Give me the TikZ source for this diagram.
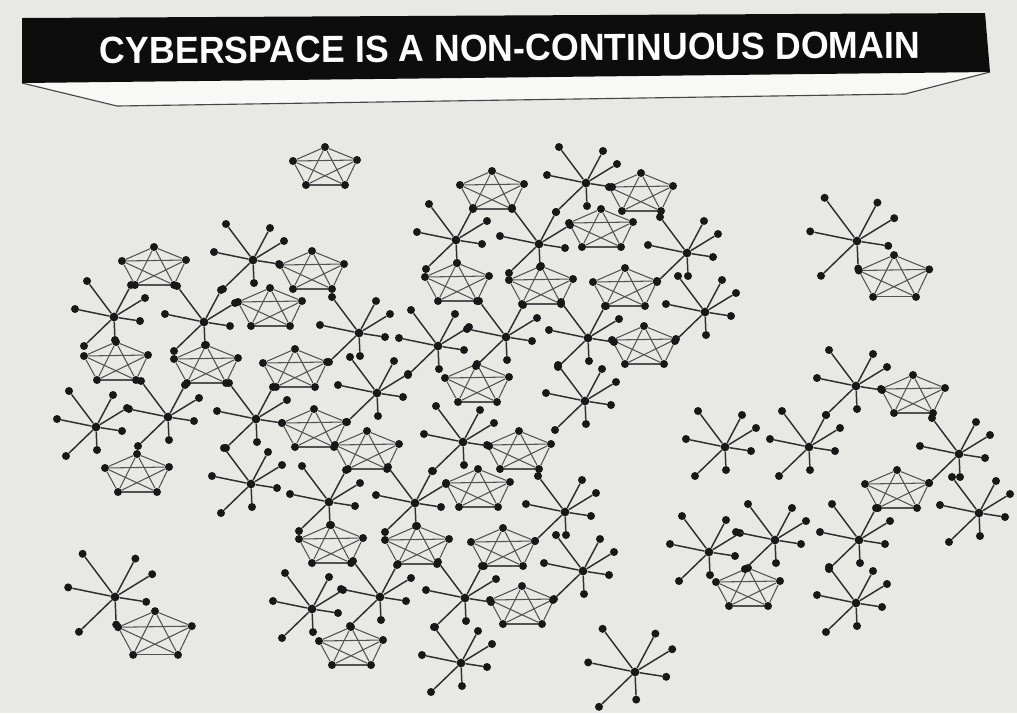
\documentclass[tikz,border=0pt]{standalone}
\usepackage{fontspec}
\setmainfont{Liberation Sans}
\usepackage{graphicx}
\definecolor{paper}{RGB}{232,232,229}
\definecolor{ink}{RGB}{24,24,24}

\begin{document}
\begin{tikzpicture}[
  x=0.025cm, y=-0.025cm,
  dot/.style={circle, fill=ink, inner sep=0pt, minimum size=0.2cm},
  hubdot/.style={dot, minimum size=0.22cm},
  spoke/.style={draw=ink!90, line width=1.05pt},
  mesh/.style={draw=ink!75, line width=0.75pt}
]

% paper
\fill[paper] (0,0) rectangle (1017,713);
\useasboundingbox (0,0) rectangle (1017,713);

% the banner
\draw[fill=white!70!paper, draw=ink!80, line width=0.8pt] (22,83) -- (117,106) -- (905,94) -- (990,72);
\fill[black!95] (22,18) -- (985,13) -- (990,72) -- (22,83) -- cycle;
\node[text=white, rotate=0.4, inner sep=0pt] (title) at (510,48)
  {\resizebox{20.5cm}{0.66cm}{\bfseries CYBERSPACE IS A NON-CONTINUOUS DOMAIN}};

% pentagons (full mesh of five)
\foreach \x/\y/\s [count=\i] in {325/166/1, 492/190/1, 641/192/1, 154/266/1, 312/270/1,
    601/228/1, 270/307/1, 457/282/1, 541/285/1, 625/287/1, 894/276/1.1, 116/361/1,
    206/364/1, 295/368/1, 644/345/1, 477/383/1, 913/394/1, 314/428/1, 367/450/1,
    137/473/1, 519/450/1, 478/488/1, 897/489/1, 331/544/1, 417/545/1, 503/547/1,
    522/605/1, 748/587/1, 155/633/1.15, 351/646/1} {
  \begin{scope}[shift={(\x,\y)}, scale=\s]
    \foreach \dx/\dy [count=\j] in {0/-19, -32/-5, 32/-6, -19/19, 20/19}
      \node[dot] (p\i-\j) at (\dx,\dy) {};
  \end{scope}
  \foreach \a/\b in {1/2, 1/3, 1/4, 1/5, 2/3, 2/4, 2/5, 3/4, 3/5, 4/5}
    \draw[mesh] (p\i-\a) -- (p\i-\b);
}

% stars (hub and seven spokes)
\foreach \x/\y/\s [count=\i] in {586/183/1, 456/240/1, 539/244/1, 687/253/1, 253/260/1,
    857/241/1.2, 114/317/1, 204/322/1, 359/333/1, 438/346/1, 506/337/1, 588/338/1,
    705/312/1, 377/393/1, 168/417/1, 96/427/1, 256/419/1, 585/401/1, 856/386/1,
    463/442/1, 725/447/1, 809/447/1, 959/454/1, 251/484/1, 329/502/1, 415/503/1,
    565/512/1, 979/513/1, 709/552/1, 775/540/1, 859/540/1, 583/571/1, 465/598/1,
    380/597/1, 312/609/1, 115/597/1.2, 856/603/1, 461/663/1, 635/672/1.2} {
  \begin{scope}[shift={(\x,\y)}, scale=\s]
    \node[hubdot] (s\i) at (0,0) {};
    \foreach \dx/\dy [count=\j] in {-27/-36, 17/-32, 31/-19, -39/-8, 26/4, 1/23, -30/29} {
      \node[dot] (s\i-\j) at (\dx,\dy) {};
      \draw[spoke] (s\i) -- (s\i-\j);
    }
  \end{scope}
}

\end{tikzpicture}
\end{document}
